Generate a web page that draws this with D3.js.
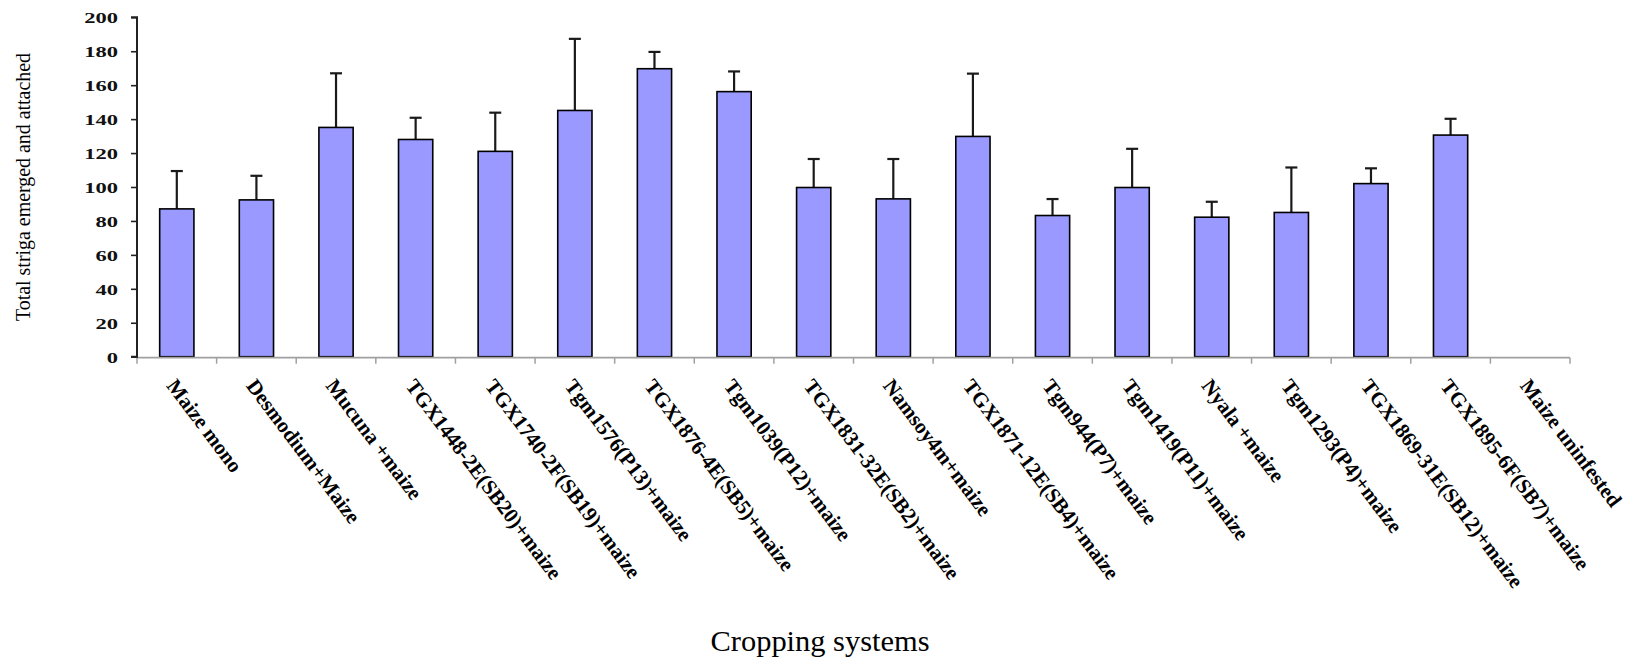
<!DOCTYPE html>
<html>
<head>
<meta charset="utf-8">
<script src="https://cdn.jsdelivr.net/npm/d3@7"></script>
<style>
  html, body { margin: 0; padding: 0; background: #fff; }
  svg { display: block; }
  text { font-family: "Liberation Serif", "DejaVu Serif", serif; }
</style>
</head>
<body>
<svg id="chart" width="1633" height="667"></svg>
<script>
const categories = [
  "Maize mono", "Desmodium+Maize", "Mucuna +maize", "TGX1448-2E(SB20)+maize",
  "TGX1740-2F(SB19)+maize", "Tgm1576(P13)+maize", "TGX1876-4E(SB5)+maize",
  "Tgm1039(P12)+maize", "TGX1831-32E(SB2)+maize", "Namsoy4m+maize",
  "TGX1871-12E(SB4)+maize", "Tgm944(P7)+maize", "Tgm1419(P11)+maize",
  "Nyala +maize", "Tgm1293(P4)+maize", "TGX1869-31E(SB12)+maize",
  "TGX1895-6F(SB7)+maize", "Maize uninfested"
];
const means = [87.1, 92.4, 135.1, 128.0, 121.0, 145.1, 169.7, 156.2, 99.7, 93.0,
               129.8, 83.2, 99.7, 82.2, 85.0, 102.0, 130.6, 0];
const upperErr = [109.4, 106.6, 167.0, 140.8, 143.8, 187.3, 179.6, 168.1, 116.5, 116.5,
                  166.8, 92.9, 122.5, 91.3, 111.5, 111.0, 140.2, 0];
const yTicks = [0, 20, 40, 60, 80, 100, 120, 140, 160, 180, 200];
const yTitle = "Total striga emerged and attached";
const xTitle = "Cropping systems";

const svg = d3.select("#chart");
const mLeft = 137, mRight = 1570, mTop = 17.3, mBottom = 356.7;

const x = d3.scaleBand().domain(categories).range([mLeft, mRight]).padding(0);
const y = d3.scaleLinear().domain([0, 200]).range([mBottom, mTop]);

const barW = x.bandwidth() * 0.43;
const data = categories.map((c, i) => ({c, m: means[i], e: upperErr[i]}));
const shown = data.filter(d => d.m > 0);

// error bars (drawn behind bars)
const eg = svg.append("g");
eg.selectAll("line.v").data(shown).join("line")
  .attr("x1", d => x(d.c) + x.bandwidth() / 2)
  .attr("x2", d => x(d.c) + x.bandwidth() / 2)
  .attr("y1", d => y(d.m)).attr("y2", d => y(d.e))
  .attr("stroke", "#1a1a1a").attr("stroke-width", 2.2);
eg.selectAll("line.cap").data(shown).join("line")
  .attr("x1", d => x(d.c) + x.bandwidth() / 2 - 6)
  .attr("x2", d => x(d.c) + x.bandwidth() / 2 + 6)
  .attr("y1", d => y(d.e)).attr("y2", d => y(d.e))
  .attr("stroke", "#1a1a1a").attr("stroke-width", 2.2);

// bars
svg.append("g").selectAll("rect").data(shown).join("rect")
  .attr("x", d => x(d.c) + (x.bandwidth() - barW) / 2)
  .attr("width", barW)
  .attr("y", d => y(d.m))
  .attr("height", d => y(0) - y(d.m))
  .attr("fill", "#9999FF")
  .attr("stroke", "#000").attr("stroke-width", 1.6);

// x axis (gray)
const xg = svg.append("g");
xg.append("line").attr("x1", mLeft).attr("x2", mRight).attr("y1", mBottom + 1).attr("y2", mBottom + 1)
  .attr("stroke", "#a0a0a0").attr("stroke-width", 1.8);
const boundaries = categories.map(c => x(c)).concat([mRight]);
xg.selectAll("line.t").data(boundaries).join("line")
  .attr("x1", d => d).attr("x2", d => d)
  .attr("y1", mBottom + 1).attr("y2", mBottom + 7)
  .attr("stroke", "#a0a0a0").attr("stroke-width", 1.5);

// x labels
svg.append("g").selectAll("text").data(categories).join("text")
  .attr("transform", d => `translate(${x(d) + x.bandwidth() / 2 - 11},386) rotate(53)`)
  .attr("text-anchor", "start")
  .attr("font-size", 21).attr("font-weight", "bold")
  .attr("fill", "#000")
  .text(d => d);

// y axis
const yAxis = d3.axisLeft(y).tickValues(yTicks).tickSize(6).tickPadding(0).tickFormat(d3.format("d"));
const yg = svg.append("g").attr("transform", `translate(${mLeft},0)`).call(yAxis);
yg.select(".domain").attr("stroke", "#222").attr("stroke-width", 2).attr("d", `M-6,${mBottom}H0V${mTop}H-6`);
yg.selectAll(".tick line").attr("stroke", "#222").attr("stroke-width", 1.6);
yg.selectAll(".tick text")
  .attr("font-family", "Liberation Serif, serif")
  .attr("font-size", 15).attr("font-weight", "bold").attr("fill", "#111")
  .attr("x", -19 / 1.5).attr("dy", "0.36em")
  .attr("transform", "scale(1.5,1)");

// titles
svg.append("text")
  .attr("transform", `translate(30,${(mTop + mBottom) / 2}) rotate(-90)`)
  .attr("text-anchor", "middle")
  .attr("font-size", 21)
  .attr("textLength", 268).attr("lengthAdjust", "spacingAndGlyphs")
  .text(yTitle);

svg.append("text")
  .attr("x", 820).attr("y", 651)
  .attr("text-anchor", "middle")
  .attr("font-size", 29)
  .attr("textLength", 219).attr("lengthAdjust", "spacingAndGlyphs")
  .text(xTitle);
</script>
</body>
</html>
